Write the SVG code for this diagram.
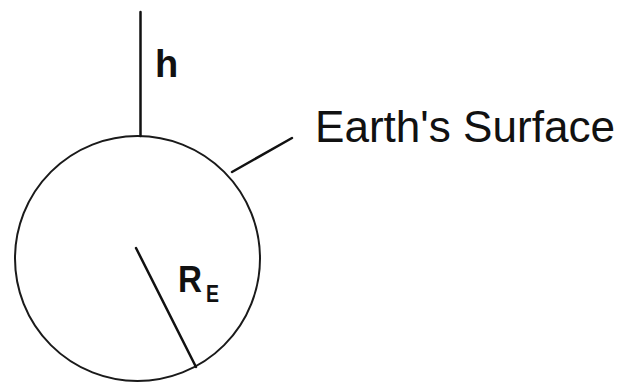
<svg xmlns="http://www.w3.org/2000/svg" width="623" height="382" viewBox="0 0 623 382">
  <style>
    .ln { stroke: #111; stroke-width: 2.5; fill: none; stroke-linecap: round; }
    .txt { font-family: "Liberation Sans", Arial, sans-serif; fill: #111; }
  </style>
  <rect width="623" height="382" fill="#ffffff"/>
  <g id="earth">
    <circle cx="137.5" cy="258.5" r="122.5" fill="none" stroke="#1a1a1a" stroke-width="2"/>
  </g>
  <g id="connectors">
    <line class="ln" x1="140.5" y1="12" x2="140.5" y2="136" stroke="#16163a"/>
    <line class="ln" x1="232" y1="172" x2="292" y2="138"/>
    <line class="ln" x1="136" y1="248" x2="196" y2="367"/>
  </g>
  <g id="height-label">
    <text class="txt" x="155" y="77" font-size="38" font-weight="bold">h</text>
  </g>
  <g id="radius-label">
    <text class="txt" x="178" y="292" font-size="36" font-weight="bold" textLength="24" lengthAdjust="spacingAndGlyphs">R</text>
    <text class="txt" x="206" y="302" font-size="24" font-weight="bold" textLength="13" lengthAdjust="spacingAndGlyphs">E</text>
  </g>
  <g id="surface-label">
    <text class="txt" x="315" y="142" font-size="44" textLength="300" lengthAdjust="spacingAndGlyphs">Earth's Surface</text>
  </g>
</svg>
